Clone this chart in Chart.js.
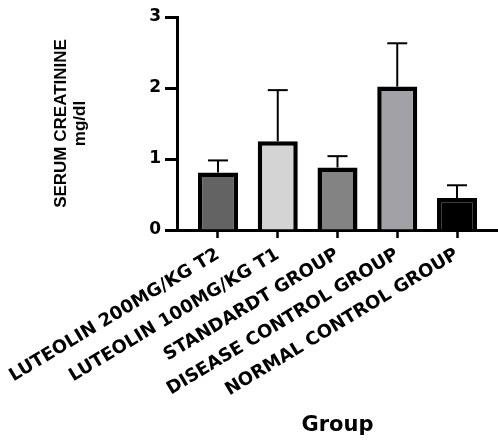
<!DOCTYPE html>
<html>
<head>
<meta charset="utf-8">
<script src="https://cdn.jsdelivr.net/npm/chart.js@4"></script>
<style>
  html, body { margin: 0; padding: 0; background: #fff; }
  #wrap { position: relative; width: 498px; height: 440px; }
</style>
</head>
<body>
<div id="wrap"><canvas id="c"></canvas></div>
<script>
const categories = ["LUTEOLIN 200MG/KG T2", "LUTEOLIN 100MG/KG T1", "STANDARDT GROUP", "DISEASE CONTROL GROUP", "NORMAL CONTROL GROUP"];
const meanValues = [0.81, 1.25, 0.88, 2.02, 0.45];
const errorValues = [0.17, 0.72, 0.16, 0.61, 0.18];
const barColors = ["#636363", "#d4d4d4", "#838383", "#a1a1a6", "#000000"];
const yTicks = [0, 1, 2, 3];

const errorBars = {
  id: 'errorBars',
  afterDatasetsDraw(chart) {
    const ctx = chart.ctx;
    const xs = chart.scales.x, ys = chart.scales.y;
    ctx.save();
    ctx.strokeStyle = '#000';
    ctx.lineCap = 'butt';
    meanValues.forEach((v, i) => {
      const x = xs.getPixelForValue(i);
      const y0 = ys.getPixelForValue(v);
      const y1 = ys.getPixelForValue(v + errorValues[i]);
      ctx.lineWidth = 2;
      ctx.beginPath();
      ctx.moveTo(x, y0);
      ctx.lineTo(x, y1);
      ctx.stroke();
      ctx.beginPath();
      ctx.moveTo(x - 10, y1);
      ctx.lineTo(x + 10, y1);
      ctx.stroke();
    });
    ctx.restore();
  }
};

new Chart(document.getElementById('c'), {
  type: 'bar',
  data: {
    datasets: [{
      data: categories.map((c, i) => ({ x: i, y: meanValues[i] })),
      backgroundColor: barColors,
      borderColor: '#000',
      borderWidth: 4.5,
      borderSkipped: 'start',
      barPercentage: 0.67,
      categoryPercentage: 1.0
    }]
  },
  options: {
    responsive: true,
    maintainAspectRatio: false,
    animation: false,
    events: [],
    layout: { padding: { top: 17, left: 0, right: 0, bottom: 0 } },
    plugins: { legend: { display: false }, tooltip: { enabled: false } },
    scales: {
      x: {
        type: 'linear',
        offset: false,
        min: -0.686,
        max: 4.686,
        afterFit(s) { s.height = 210; s.paddingLeft = 0; s.paddingRight = 0; },
        grid: { display: true, offset: false, drawOnChartArea: false, drawTicks: true, tickLength: 8, tickWidth: 2.5, tickColor: '#000' },
        border: { display: true, color: '#000', width: 3 },
        ticks: {
          stepSize: 1,
          includeBounds: false,
          autoSkip: false,
          minRotation: 31,
          maxRotation: 31,
          padding: 6,
          color: '#000',
          font: { family: 'DejaVu Sans', weight: 'bold', size: 18 },
          callback: (v) => (Number.isInteger(v) && categories[v] !== undefined) ? categories[v] : ''
        },
        title: {
          display: true,
          text: 'Group',
          color: '#000',
          font: { family: 'DejaVu Sans', weight: 'bold', size: 21 },
          padding: { top: 0, bottom: 2 }
        }
      },
      y: {
        min: 0,
        max: 3,
        afterFit(s) { s.width = 177; },
        afterBuildTicks(s) { s.ticks = yTicks.map(v => ({ value: v })); },
        grid: { display: true, drawOnChartArea: false, drawTicks: true, tickLength: 12, tickWidth: 3, tickColor: '#000' },
        border: { display: true, color: '#000', width: 3 },
        ticks: {
          padding: 4,
          color: '#000',
          font: { family: 'DejaVu Sans', weight: 'bold', size: 17 }
        },
        title: {
          display: true,
          text: ['SERUM CREATININE', 'mg/dl'],
          color: '#000',
          font: { family: 'Liberation Sans', weight: 'bold', size: 17, lineHeight: 1.1 },
          padding: { top: 52, bottom: 0 }
        }
      }
    }
  },
  plugins: [errorBars]
});
</script>
</body>
</html>
